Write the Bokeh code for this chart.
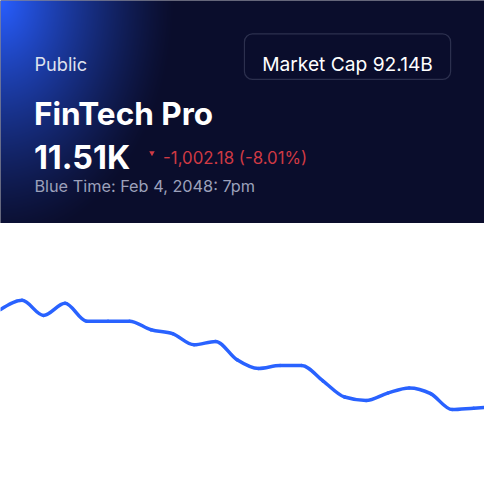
import numpy as np
from bokeh.plotting import figure
from bokeh.layouts import column
from bokeh.models import Range1d, ColumnDataSource
from bokeh.core.properties import value
from bokeh.embed import file_html
from bokeh.resources import INLINE

# ---------------- data ----------------
company = "FinTech Pro"
listing = "Public"
price_label = "11.51K"
change_label = "-1,002.18 (-8.01%)"
time_label = "Blue Time: Feb 4, 2048: 7pm"
market_cap_label = "Market Cap 92.14B"

prices = [12510, 12604, 12450, 12574, 12391, 12391, 12391, 12302, 12262, 12148,
          12183, 11994, 11905, 11935, 11935, 11776, 11612, 11577, 11652, 11706,
          11647, 11483, 11498, 11510]
steps = list(range(len(prices)))

# ---------------- style ----------------
S = 0.968            # reference (500px) -> figure (484px)
W = 484
HEAD_H = 223
CHART_H = 261
BG = "#0a0d2c"
FONT = value("Inter")
LINE_COLOR = "#2962ff"
RED = "#d03a44"

# ---------------- header ----------------
head = figure(width=W, height=HEAD_H, x_range=Range1d(0, W), y_range=Range1d(0, HEAD_H),
              toolbar_location=None, output_backend="svg", min_border=0,
              x_axis_location=None, y_axis_location=None)
head.grid.visible = False
head.outline_line_color = None
head.background_fill_color = BG
head.border_fill_color = BG

# radial glow (decoration)
h, w = HEAD_H, W
jj, ii = np.meshgrid(np.arange(w), np.arange(h))
rx = (jj + 0.5) / S
ry = (HEAD_H - (ii + 0.5)) / S
d = np.sqrt((rx / 180.0) ** 2 + (ry / 250.0) ** 2)
t = np.clip(1 - d, 0, 1) ** 1.25
bg = np.array([10, 13, 44], dtype=float)
bl = np.array([40, 94, 255], dtype=float)
rgb = bg[None, None, :] * (1 - t[..., None]) + bl[None, None, :] * t[..., None]
img = np.empty((h, w), dtype=np.uint32)
view = img.view(dtype=np.uint8).reshape((h, w, 4))
view[..., :3] = np.round(rgb).astype(np.uint8)
view[..., 3] = 255
head.image_rgba(image=[img], x=0, y=0, dw=W, dh=HEAD_H)

def hx(ref_x):
    return ref_x * S

def hy(ref_y):
    return HEAD_H - ref_y * S

head.text(x=[hx(35)], y=[hy(65.5)], text=[listing], text_font=FONT, text_font_size="18.2px",
          text_color="#dfe2ee", text_baseline="alphabetic")
head.text(x=[hx(34.5)], y=[hy(117)], text=[company], text_font=FONT, text_font_size="31.5px",
          text_font_style="bold", text_color="#ffffff", text_baseline="alphabetic")
head.text(x=[hx(34.5)], y=[hy(162.5)], text=[price_label], text_font=FONT, text_font_size="32.3px",
          text_font_style="bold", text_color="#ffffff", text_baseline="alphabetic")
head.scatter(x=[hx(156.5)], y=[hy(157.5)], marker="inverted_triangle", size=5.5,
             fill_color=RED, line_color=None)
head.text(x=[hx(168)], y=[hy(163)], text=[change_label], text_font=FONT, text_font_size="16.8px",
          text_color=RED, text_baseline="alphabetic")
head.text(x=[hx(35)], y=[hy(191.5)], text=[time_label], text_font=FONT, text_font_size="16.3px",
          text_color="#9ca1bb", text_baseline="alphabetic")

head.quad(left=[hx(252)], right=[hx(465)], top=[hy(34.5)], bottom=[hy(81.5)], fill_color=BG,
          fill_alpha=1, line_color="#2c304e", line_width=1.2, border_radius=8)
head.text(x=[hx(358.5)], y=[hy(65.7)], text=[market_cap_label], text_font=FONT,
          text_font_size="19.2px", text_color="#ffffff", text_align="center",
          text_baseline="alphabetic")

# ---------------- chart ----------------
sp = 22.22
chart = figure(width=W, height=CHART_H,
               x_range=Range1d(0, 500 / sp),
               y_range=Range1d(12510 - (500 - 319) * 9.92, 12510 + (319 - 230) * 9.92),
               toolbar_location=None, output_backend="svg", min_border=0,
               x_axis_location=None, y_axis_location=None)
chart.grid.visible = False
chart.outline_line_color = None
chart.background_fill_color = "#ffffff"
chart.border_fill_color = "#ffffff"

# monotone cubic tangents -> bezier segments
x = np.array(steps, dtype=float)
y = np.array(prices, dtype=float)
n = len(x)
s = np.diff(y) / np.diff(x)
m = np.zeros(n)
for k in range(1, n - 1):
    s0, s1 = s[k - 1], s[k]
    p_ = (s0 + s1) / 2
    m[k] = (np.sign(s0) + np.sign(s1)) * min(abs(s0), abs(s1), 0.5 * abs(p_))
m[0] = (3 * s[0] - m[1]) / 2
m[-1] = (3 * s[-1] - m[-2]) / 2
src = ColumnDataSource(dict(
    x0=x[:-1], y0=y[:-1], x1=x[1:], y1=y[1:],
    cx0=x[:-1] + 1 / 3, cy0=y[:-1] + m[:-1] / 3,
    cx1=x[1:] - 1 / 3, cy1=y[1:] - m[1:] / 3,
))
chart.bezier(x0="x0", y0="y0", x1="x1", y1="y1", cx0="cx0", cy0="cy0", cx1="cx1", cy1="cy1",
             source=src, line_color=LINE_COLOR, line_width=3.5, line_cap="round")

layout = column(head, chart, spacing=0)
open("out.html", "w").write(file_html(layout, INLINE))
